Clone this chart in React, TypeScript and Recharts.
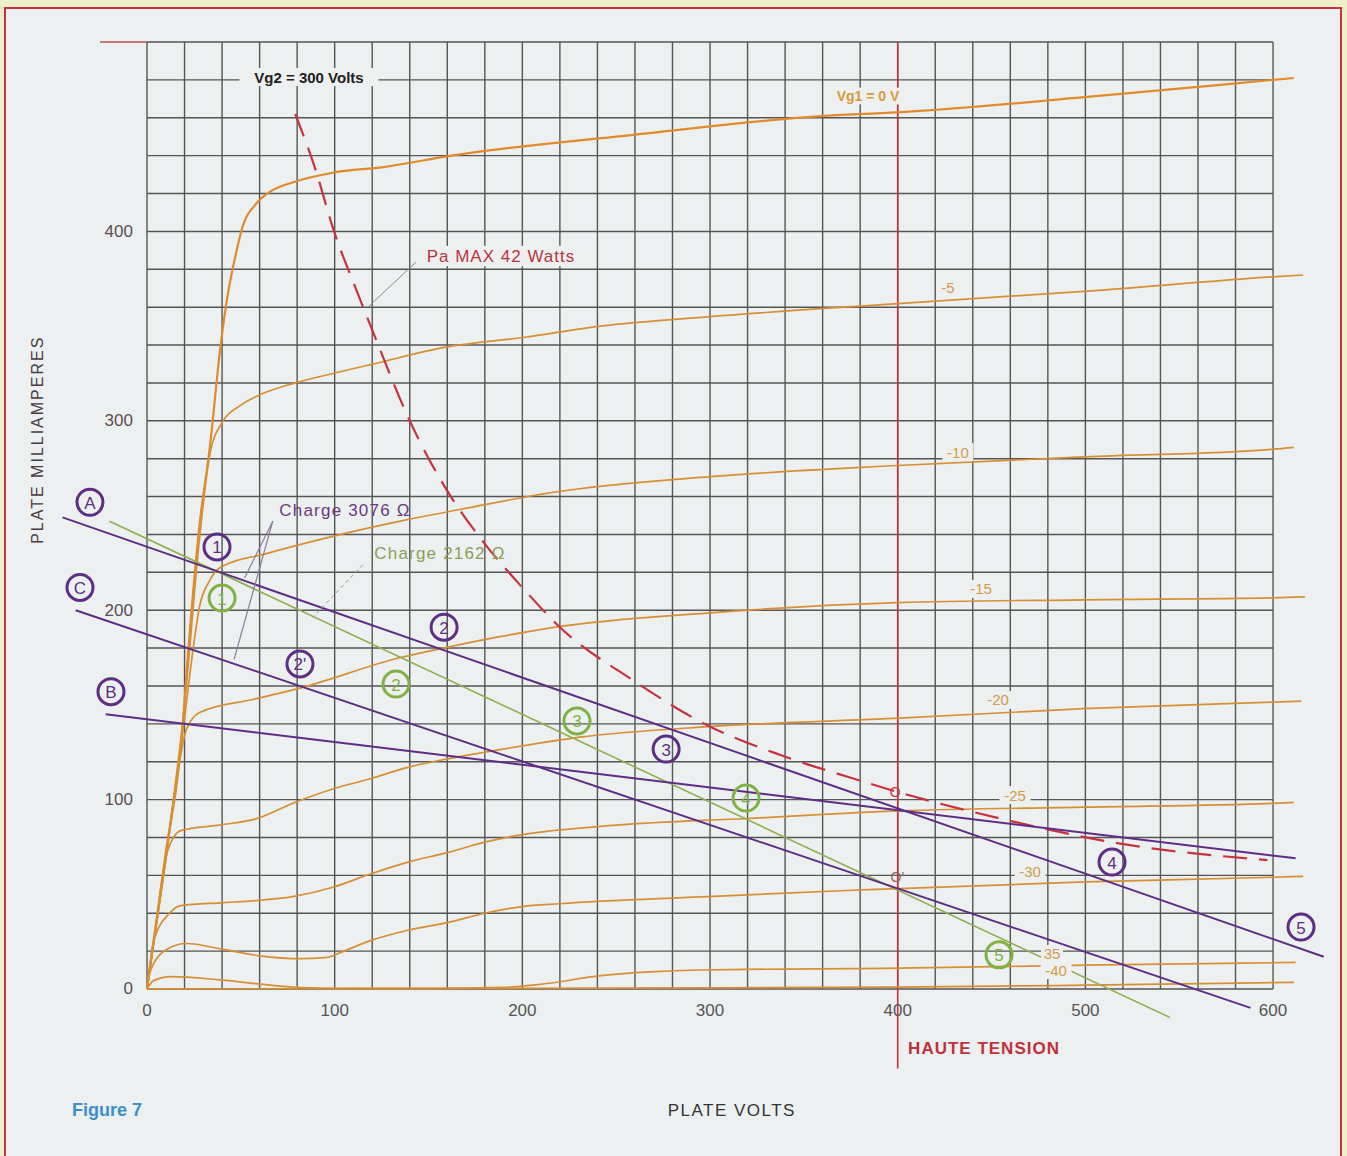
import React from 'react';
import { LineChart, Line, XAxis, YAxis, ReferenceLine, ReferenceDot } from 'recharts';

type Pt = { v: number; ma: number };

// plate characteristic curves (plate volts -> plate mA)
const vg1_0: Pt[] = [
  { v: 0, ma: 0 }, { v: 10, ma: 72 }, { v: 18, ma: 127 }, { v: 22, ma: 179 }, { v: 28, ma: 245 },
  { v: 33.6, ma: 287 }, { v: 39, ma: 338 }, { v: 42.6, ma: 364 }, { v: 48, ma: 391 }, { v: 50.5, ma: 401 },
  { v: 58.5, ma: 415 }, { v: 65.6, ma: 421 }, { v: 78, ma: 426 }, { v: 99, ma: 431 }, { v: 126, ma: 434 },
  { v: 162, ma: 440 }, { v: 259, ma: 451 }, { v: 361, ma: 461 }, { v: 402, ma: 463 }, { v: 501, ma: 471 },
  { v: 600, ma: 480 }, { v: 611, ma: 481 },
];
const vg1_5: Pt[] = [
  { v: 0, ma: 0 }, { v: 10, ma: 70 }, { v: 20, ma: 150 }, { v: 28, ma: 238 }, { v: 33.6, ma: 283 },
  { v: 40.6, ma: 300 }, { v: 49.6, ma: 308 }, { v: 58.5, ma: 313 }, { v: 79, ma: 320 }, { v: 99, ma: 325 },
  { v: 120.6, ma: 330 }, { v: 160, ma: 339 }, { v: 200.5, ma: 344 }, { v: 241.6, ma: 350 }, { v: 300, ma: 355 },
  { v: 402, ma: 362 }, { v: 501, ma: 368.5 }, { v: 600, ma: 376 }, { v: 616, ma: 377 },
];
const vg1_10: Pt[] = [
  { v: 0, ma: 0 }, { v: 10, ma: 68 }, { v: 20, ma: 143 }, { v: 24.5, ma: 179 }, { v: 28, ma: 202 },
  { v: 33, ma: 215 }, { v: 39, ma: 222.5 }, { v: 64, ma: 230 }, { v: 99, ma: 239 }, { v: 135, ma: 247 },
  { v: 171, ma: 254 }, { v: 215, ma: 262 }, { v: 300, ma: 270.5 }, { v: 400, ma: 276.4 }, { v: 500, ma: 281 },
  { v: 600, ma: 285 }, { v: 611, ma: 286 },
];
const vg1_15: Pt[] = [
  { v: 0, ma: 0 }, { v: 10, ma: 68 }, { v: 16, ma: 112 }, { v: 21, ma: 137 }, { v: 28, ma: 146 },
  { v: 57, ma: 153 }, { v: 82, ma: 159 }, { v: 135, ma: 175 }, { v: 158, ma: 180 }, { v: 188, ma: 186 },
  { v: 215, ma: 190.7 }, { v: 300, ma: 198.6 }, { v: 400, ma: 204 }, { v: 500, ma: 205.5 }, { v: 600, ma: 206.5 },
  { v: 617, ma: 207 },
];
const vg1_20: Pt[] = [
  { v: 0, ma: 0 }, { v: 5, ma: 36 }, { v: 10.7, ma: 72 }, { v: 18, ma: 83.6 }, { v: 39, ma: 86.6 },
  { v: 58, ma: 89.8 }, { v: 79, ma: 98.6 }, { v: 99, ma: 105.6 }, { v: 119, ma: 111 }, { v: 139, ma: 117 },
  { v: 160, ma: 121.5 }, { v: 180, ma: 125 }, { v: 231, ma: 133 }, { v: 299, ma: 138.5 }, { v: 401, ma: 143 },
  { v: 499, ma: 148 }, { v: 600, ma: 151.5 }, { v: 615, ma: 152 },
];
const vg1_25: Pt[] = [
  { v: 0, ma: 0 }, { v: 3.5, ma: 25 }, { v: 12, ma: 40 }, { v: 18, ma: 44 }, { v: 39, ma: 45.5 },
  { v: 58, ma: 46.6 }, { v: 79, ma: 49 }, { v: 99, ma: 53.7 }, { v: 119, ma: 60.7 }, { v: 139, ma: 67 },
  { v: 160, ma: 72 }, { v: 180, ma: 77.5 }, { v: 200, ma: 81.5 }, { v: 250, ma: 86.5 }, { v: 320, ma: 90 },
  { v: 401, ma: 94 }, { v: 500, ma: 96 }, { v: 600, ma: 98 }, { v: 611, ma: 98.5 },
];
const vg1_30: Pt[] = [
  { v: 0, ma: 0 }, { v: 2, ma: 10 }, { v: 10.7, ma: 21 }, { v: 21, ma: 24 }, { v: 40, ma: 21 },
  { v: 60, ma: 17.5 }, { v: 82, ma: 16 }, { v: 95, ma: 16.5 }, { v: 105, ma: 20 }, { v: 119, ma: 25.5 },
  { v: 139, ma: 31 }, { v: 160, ma: 35 }, { v: 180, ma: 40 }, { v: 200, ma: 43.5 }, { v: 220, ma: 45 },
  { v: 295, ma: 48.6 }, { v: 373, ma: 52 }, { v: 401, ma: 53 }, { v: 500, ma: 56.5 }, { v: 600, ma: 59 },
  { v: 616, ma: 59.5 },
];
const vg1_35: Pt[] = [
  { v: 0, ma: 0 }, { v: 3.5, ma: 4.4 }, { v: 13, ma: 6.5 }, { v: 39, ma: 4.8 }, { v: 68, ma: 1.8 },
  { v: 82, ma: 0.7 }, { v: 100, ma: 0.3 }, { v: 150, ma: 0.3 }, { v: 190, ma: 0.8 }, { v: 210, ma: 2.5 },
  { v: 242, ma: 7 }, { v: 268, ma: 9 }, { v: 295, ma: 10 }, { v: 401, ma: 11 }, { v: 508, ma: 12.7 },
  { v: 612, ma: 14 },
];
const vg1_40: Pt[] = [
  { v: 0, ma: 0 }, { v: 100, ma: 0.2 }, { v: 300, ma: 0.6 }, { v: 400, ma: 1 }, { v: 500, ma: 2 },
  { v: 611, ma: 3.5 },
];

// Pa max 42 W hyperbola (dashed)
const paMax: Pt[] = [
  { v: 79, ma: 462 }, { v: 90, ma: 432 }, { v: 99, ma: 402 }, { v: 112, ma: 368 }, { v: 122, ma: 343 },
  { v: 140, ma: 300 }, { v: 160, ma: 263 }, { v: 180, ma: 235 }, { v: 200, ma: 212 }, { v: 220, ma: 191 },
  { v: 259, ma: 163 }, { v: 299, ma: 139 }, { v: 339, ma: 123 }, { v: 375, ma: 111.5 }, { v: 400, ma: 104 },
  { v: 459, ma: 89 }, { v: 517, ma: 77 }, { v: 597, ma: 68 },
];

// load lines
const loadA: Pt[] = [{ v: -45, ma: 249 }, { v: 627, ma: 17 }];
const loadB: Pt[] = [{ v: -22, ma: 145 }, { v: 612, ma: 69 }];
const loadC: Pt[] = [{ v: -38, ma: 200 }, { v: 588, ma: -10 }];
const load2162: Pt[] = [{ v: -20, ma: 247 }, { v: 545, ma: -15 }];

// circled markers
const purpleMarks = [
  { v: -30.4, ma: 257, t: 'A' }, { v: -35.7, ma: 212, t: 'C' }, { v: -19.2, ma: 157, t: 'B' },
  { v: 37.3, ma: 233.4, t: '1' }, { v: 158.3, ma: 191, t: '2' }, { v: 81.5, ma: 171.6, t: "2'" },
  { v: 276.6, ma: 126.7, t: '3' }, { v: 514.2, ma: 67, t: '4' }, { v: 614.9, ma: 32.7, t: '5' },
];
const greenMarks = [
  { v: 40, ma: 206.4, t: '1' }, { v: 132.7, ma: 161, t: '2' }, { v: 229.1, ma: 141.5, t: '3' },
  { v: 319.2, ma: 100.8, t: '4' }, { v: 454, ma: 18, t: '5' },
];

// grid curve labels
const curveLabels = [
  { v: 426.8, ma: 370.6, t: '-5' }, { v: 432.1, ma: 283.5, t: '-10' }, { v: 444.4, ma: 211.2, t: '-15' },
  { v: 453.5, ma: 152.6, t: '-20' }, { v: 462.5, ma: 102.4, t: '-25' }, { v: 470.5, ma: 61.8, t: '-30' },
  { v: 482.2, ma: 18.5, t: '35' }, { v: 484.4, ma: 10, t: '-40' },
];

const voltTicks = [0, 100, 200, 300, 400, 500, 600];
const maTicks = [0, 100, 200, 300, 400];

const gridVolts = Array.from({ length: 31 }, (_, i) => i * 20);
const gridMa = Array.from({ length: 26 }, (_, i) => i * 20);

const W = 1347;
const H = 1156;
// domain chosen so that 0 V sits at x=147, 600 V at x=1273, 0 mA at y=989, 500 mA at y=42
const X_DOMAIN: [number, number] = [-78.33, 639.4];
const Y_DOMAIN: [number, number] = [-88.2, 522.2];

const FONT = '"Liberation Sans", Arial, sans-serif';
const ORANGE = '#d68f34';
const PURPLE = '#5e2d84';
const GREEN = '#7eb343';

const textShape =
  (t: string, o: { size?: number; fill?: string; weight?: number; anchor?: string; spacing?: number; bg?: boolean }) =>
  (p: any) => {
    const size = o.size ?? 15;
    const w = t.length * size * 0.6 + 4;
    return (
      <g>
        {o.bg && <rect x={p.cx - w / 2} y={p.cy - size * 0.6} width={w} height={size * 1.2} fill="#eef0f0" />}
        <text
          x={p.cx}
          y={p.cy}
          textAnchor={(o.anchor as any) ?? 'middle'}
          dominantBaseline="central"
          fontFamily={FONT}
          fontSize={size}
          fontWeight={o.weight ?? 400}
          letterSpacing={o.spacing ?? 0}
          fill={o.fill ?? '#333'}
        >
          {t}
        </text>
      </g>
    );
  };

const circleShape = (t: string, color: string) => (p: any) => (
  <g>
    <circle cx={p.cx} cy={p.cy} r={13} fill="none" stroke={color} strokeWidth={3} />
    <text x={p.cx} y={p.cy + 1} textAnchor="middle" dominantBaseline="central" fontFamily={FONT} fontSize={17} fill={color}>
      {t}
    </text>
  </g>
);

export default function App() {
  return (
    <div style={{ position: 'absolute', left: 0, top: 0, width: W, height: H, background: '#eff0c9', overflow: 'hidden' }}>
      <div
        style={{
          position: 'absolute',
          left: 4,
          top: 7,
          width: 1334,
          height: 1160,
          background: '#edf0f0',
          border: '2px solid #c8323e',
        }}
      />
      <div style={{ position: 'absolute', left: 0, top: 0 }}>
        <LineChart width={W} height={H} margin={{ top: 0, right: 0, bottom: 0, left: 0 }}>
          <XAxis type="number" dataKey="v" domain={X_DOMAIN} allowDataOverflow hide />
          <YAxis type="number" dataKey="ma" domain={Y_DOMAIN} allowDataOverflow hide />

          {gridVolts.map((v) => (
            <ReferenceLine key={'gv' + v} segment={[{ x: v, y: 0 }, { x: v, y: 500 }]} stroke="#555" strokeWidth={1.4} zIndex={-100} />
          ))}
          {gridMa.map((m) => (
            <ReferenceLine key={'gm' + m} segment={[{ x: 0, y: m }, { x: 600, y: m }]} stroke="#555" strokeWidth={1.4} zIndex={-100} />
          ))}
          <ReferenceLine segment={[{ x: -25, y: 500 }, { x: 0, y: 500 }]} stroke="#c0504d" strokeWidth={1.4} />

          {/* haute tension */}
          <ReferenceLine segment={[{ x: 400, y: 500 }, { x: 400, y: -42 }]} stroke="#c8323e" strokeWidth={1.6} />

          <Line data={vg1_0} dataKey="ma" type="monotone" stroke="#e08a2c" strokeWidth={2.2} dot={false} activeDot={false} isAnimationActive={false} />
          <Line data={vg1_5} dataKey="ma" type="monotone" stroke={ORANGE} strokeWidth={1.7} dot={false} activeDot={false} isAnimationActive={false} />
          <Line data={vg1_10} dataKey="ma" type="monotone" stroke={ORANGE} strokeWidth={1.7} dot={false} activeDot={false} isAnimationActive={false} />
          <Line data={vg1_15} dataKey="ma" type="monotone" stroke={ORANGE} strokeWidth={1.7} dot={false} activeDot={false} isAnimationActive={false} />
          <Line data={vg1_20} dataKey="ma" type="monotone" stroke={ORANGE} strokeWidth={1.7} dot={false} activeDot={false} isAnimationActive={false} />
          <Line data={vg1_25} dataKey="ma" type="monotone" stroke={ORANGE} strokeWidth={1.7} dot={false} activeDot={false} isAnimationActive={false} />
          <Line data={vg1_30} dataKey="ma" type="monotone" stroke={ORANGE} strokeWidth={1.7} dot={false} activeDot={false} isAnimationActive={false} />
          <Line data={vg1_35} dataKey="ma" type="monotone" stroke={ORANGE} strokeWidth={1.7} dot={false} activeDot={false} isAnimationActive={false} />
          <Line data={vg1_40} dataKey="ma" type="monotone" stroke={ORANGE} strokeWidth={1.7} dot={false} activeDot={false} isAnimationActive={false} />

          <Line data={paMax} dataKey="ma" type="monotone" stroke="#c8323e" strokeWidth={2.2} strokeDasharray="24 12" dot={false} activeDot={false} isAnimationActive={false} />

          <Line data={load2162} dataKey="ma" type="linear" stroke="#8fae4e" strokeWidth={1.6} dot={false} activeDot={false} isAnimationActive={false} />
          <Line data={loadA} dataKey="ma" type="linear" stroke={PURPLE} strokeWidth={2} dot={false} activeDot={false} isAnimationActive={false} />
          <Line data={loadB} dataKey="ma" type="linear" stroke={PURPLE} strokeWidth={2} dot={false} activeDot={false} isAnimationActive={false} />
          <Line data={loadC} dataKey="ma" type="linear" stroke={PURPLE} strokeWidth={2} dot={false} activeDot={false} isAnimationActive={false} />

          {/* leader lines */}
          <ReferenceLine segment={[{ x: 143.3, y: 383.8 }, { x: 117.8, y: 360.1 }]} stroke="#8a8a8a" strokeWidth={1} />
          <ReferenceLine segment={[{ x: 67, y: 247 }, { x: 52, y: 217 }]} stroke="#8a7a9a" strokeWidth={1.2} />
          <ReferenceLine segment={[{ x: 67, y: 247 }, { x: 46.4, y: 174 }]} stroke="#8a7a9a" strokeWidth={1.2} />
          <ReferenceLine segment={[{ x: 115, y: 224 }, { x: 88.5, y: 196.4 }]} stroke="#9a9a9a" strokeWidth={1} strokeDasharray="4 3" />

          {curveLabels.map((c) => (
            <ReferenceDot key={'cl' + c.t} x={c.v} y={c.ma} r={1} shape={textShape(c.t, { size: 15, fill: '#d49a4a', bg: true })} />
          ))}

          {purpleMarks.map((m) => (
            <ReferenceDot key={'pm' + m.t} x={m.v} y={m.ma} r={1} shape={circleShape(m.t, PURPLE)} />
          ))}
          {greenMarks.map((m) => (
            <ReferenceDot key={'gm' + m.t} x={m.v} y={m.ma} r={1} shape={circleShape(m.t, GREEN)} />
          ))}

          <ReferenceDot x={86.3} y={481.5} r={1} shape={textShape('Vg2 = 300 Volts', { size: 15, weight: 700, fill: '#222', bg: true })} />
          <ReferenceDot x={384.2} y={471.5} r={1} shape={textShape('Vg1 = 0 V', { size: 14, weight: 700, fill: '#d69a3c', bg: true })} />
          <ReferenceDot x={188.6} y={387} r={1} shape={textShape('Pa MAX 42 Watts', { size: 17, fill: '#b8343c', spacing: 1, bg: true })} />
          <ReferenceDot x={105.5} y={252.4} r={1} shape={textShape('Charge 3076 Ω', { size: 17, fill: '#6a3a80', spacing: 1.2 })} />
          <ReferenceDot x={156.1} y={229.7} r={1} shape={textShape('Charge 2162 Ω', { size: 17, fill: '#8f9c55', spacing: 1.2 })} />
          <ReferenceDot x={398.6} y={104} r={1} shape={textShape('O', { size: 14, fill: '#c0403e' })} />
          <ReferenceDot x={399.8} y={59.1} r={1} shape={textShape("O'", { size: 14, fill: '#8a6a50' })} />
          <ReferenceDot x={446} y={-31.2} r={1} shape={textShape('HAUTE TENSION', { size: 17, weight: 700, fill: '#c0303a', spacing: 1 })} />

          {voltTicks.map((v) => (
            <ReferenceDot key={'xt' + v} x={v} y={-11.6} r={1} shape={textShape(String(v), { size: 17, fill: '#555' })} />
          ))}
          {maTicks.map((m) => (
            <ReferenceDot key={'yt' + m} x={-7.5} y={m} r={1} shape={textShape(String(m), { size: 17, fill: '#5a4e52', anchor: 'end' })} />
          ))}

          <ReferenceDot x={311.6} y={-64.4} r={1} shape={textShape('PLATE VOLTS', { size: 17, fill: '#333', spacing: 1.5 })} />
          <ReferenceDot x={-21.3} y={-63.9} r={1} shape={textShape('Figure 7', { size: 18, weight: 700, fill: '#3a8fcc' })} />
          <ReferenceDot
            x={-58.6}
            y={290}
            r={1}
            shape={(p: any) => (
              <text
                x={p.cx}
                y={p.cy}
                transform={`rotate(-90 ${p.cx} ${p.cy})`}
                textAnchor="middle"
                dominantBaseline="central"
                fontFamily={FONT}
                fontSize={16}
                letterSpacing={2}
                fill="#4a3c40"
              >
                PLATE MILLIAMPERES
              </text>
            )}
          />
        </LineChart>
      </div>
    </div>
  );
}
